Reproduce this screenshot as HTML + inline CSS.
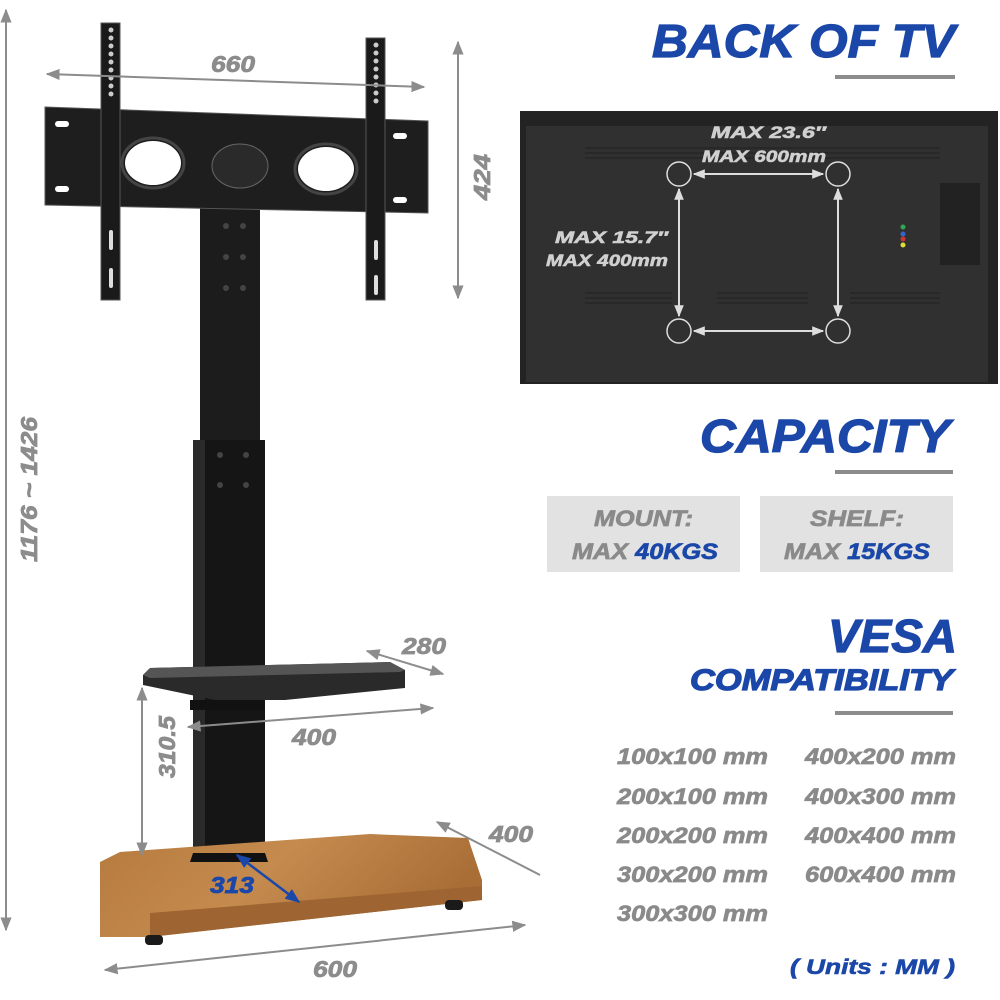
<!DOCTYPE html>
<html><head><meta charset="utf-8"><style>
html,body{margin:0;padding:0;background:#fff}
svg{display:block}
text{font-family:"Liberation Sans",sans-serif;font-weight:bold;font-style:italic}
.h{stroke-width:0.8}
</style></head><body>
<svg width="1000" height="1000" viewBox="0 0 1000 1000" xmlns="http://www.w3.org/2000/svg">
<defs>
<marker id="ag" viewBox="0 0 10 10" refX="9" refY="5" markerWidth="7" markerHeight="7" orient="auto-start-reverse"><path d="M0,1 L10,5 L0,9 z" fill="#8c8c8c"/></marker>
<marker id="aw" viewBox="0 0 10 10" refX="9" refY="5" markerWidth="6" markerHeight="6" orient="auto-start-reverse"><path d="M0,1 L10,5 L0,9 z" fill="#ddd"/></marker>
<marker id="ab" viewBox="0 0 10 10" refX="9" refY="5" markerWidth="6" markerHeight="6" orient="auto-start-reverse"><path d="M0,1 L10,5 L0,9 z" fill="#1a47a8"/></marker>
<linearGradient id="wood" x1="0" y1="0" x2="1" y2="0.3"><stop offset="0" stop-color="#b67a3e"/><stop offset="0.5" stop-color="#c48a4e"/><stop offset="1" stop-color="#a86e36"/></linearGradient>
</defs>

<!-- column -->
<rect x="200" y="205" width="60" height="240" fill="#1c1c1c"/>
<rect x="193" y="440" width="72" height="418" fill="#151515"/>
<rect x="193" y="440" width="12" height="418" fill="#2a2a2a"/>
<g fill="#444"><circle cx="226" cy="226" r="3"/><circle cx="243" cy="226" r="3"/><circle cx="226" cy="257" r="3"/><circle cx="243" cy="257" r="3"/><circle cx="226" cy="288" r="3"/><circle cx="243" cy="288" r="3"/>
<circle cx="220" cy="455" r="3"/><circle cx="246" cy="455" r="3"/><circle cx="220" cy="485" r="3"/><circle cx="246" cy="485" r="3"/></g>

<!-- plate -->
<polygon points="45,107 428,121 428,213 45,205" fill="#1e1e1e" stroke="#555" stroke-width="1"/>
<g fill="#fff"><ellipse cx="153" cy="163" rx="28" ry="22"/><ellipse cx="240" cy="166" rx="28" ry="22" fill="#2a2a2a" stroke="#666"/><ellipse cx="326" cy="169" rx="28" ry="22"/></g>
<g fill="none" stroke="#444" stroke-width="3"><ellipse cx="153" cy="163" rx="31" ry="25"/><ellipse cx="326" cy="169" rx="31" ry="25"/></g>
<g fill="#fff"><rect x="55" y="121" width="14" height="6" rx="3"/><rect x="55" y="186" width="14" height="6" rx="3"/><rect x="393" y="133" width="14" height="6" rx="3"/><rect x="393" y="197" width="14" height="6" rx="3"/></g>
<!-- rails -->
<rect x="101" y="23" width="19" height="277" fill="#1a1a1a" stroke="#555"/>
<rect x="366" y="38" width="19" height="262" fill="#1a1a1a" stroke="#555"/>
<g fill="#ccc"><circle cx="111" cy="30" r="2.5"/><circle cx="111" cy="38" r="2.5"/><circle cx="111" cy="46" r="2.5"/><circle cx="111" cy="54" r="2.5"/><circle cx="111" cy="62" r="2.5"/><circle cx="111" cy="70" r="2.5"/><circle cx="111" cy="78" r="2.5"/><circle cx="111" cy="86" r="2.5"/><circle cx="111" cy="94" r="2.5"/>
<circle cx="376" cy="45" r="2.5"/><circle cx="376" cy="53" r="2.5"/><circle cx="376" cy="61" r="2.5"/><circle cx="376" cy="69" r="2.5"/><circle cx="376" cy="77" r="2.5"/><circle cx="376" cy="85" r="2.5"/><circle cx="376" cy="93" r="2.5"/><circle cx="376" cy="101" r="2.5"/></g>
<g fill="#ddd"><rect x="109" y="230" width="4" height="20" rx="2"/><rect x="109" y="268" width="4" height="20" rx="2"/><rect x="374" y="240" width="4" height="20" rx="2"/><rect x="374" y="275" width="4" height="20" rx="2"/></g>

<!-- shelf -->
<polygon points="143,675 150,668 390,662 405,670 405,688 285,700 215,700 143,685" fill="#2a2a2a"/>
<polygon points="143,675 150,668 390,662 405,670 400,672 150,678" fill="#555"/>
<rect x="190" y="700" width="75" height="10" fill="#111"/>

<!-- base -->
<polygon points="100,862 120,852 370,834 468,838 482,880 482,900 150,937 100,937" fill="url(#wood)"/>
<polygon points="150,913 482,886 482,900 150,937" fill="#9e6532"/>
<rect x="145" y="935" width="18" height="10" rx="4" fill="#1a1a1a"/>
<rect x="445" y="900" width="18" height="10" rx="4" fill="#1a1a1a"/>
<polygon points="193,853 265,853 268,862 190,862" fill="#111"/>

<!-- dimension lines -->
<g stroke="#8c8c8c" stroke-width="2" fill="none">
<line x1="47" y1="74" x2="424" y2="87" marker-start="url(#ag)" marker-end="url(#ag)"/>
<line x1="458" y1="42" x2="458" y2="298" marker-start="url(#ag)" marker-end="url(#ag)"/>
<line x1="6" y1="10" x2="6" y2="930" marker-start="url(#ag)" marker-end="url(#ag)"/>
<line x1="367" y1="651" x2="443" y2="674" marker-start="url(#ag)" marker-end="url(#ag)"/>
<line x1="188" y1="727" x2="433" y2="708" marker-start="url(#ag)" marker-end="url(#ag)"/>
<line x1="142" y1="688" x2="142" y2="855" marker-start="url(#ag)" marker-end="url(#ag)"/>
<line x1="437" y1="822" x2="540" y2="875" marker-start="url(#ag)"/>
<line x1="105" y1="970" x2="525" y2="925" marker-start="url(#ag)" marker-end="url(#ag)"/>
</g>
<line x1="237" y1="855" x2="299" y2="902" stroke="#1a47a8" stroke-width="2.5" marker-start="url(#ab)" marker-end="url(#ab)"/>

<g fill="#8c8c8c" stroke="#8c8c8c" class="h" font-size="23">
<text x="211" y="72" textLength="44" lengthAdjust="spacingAndGlyphs">660</text>
<text transform="translate(490,200) rotate(-90)" textLength="46" lengthAdjust="spacingAndGlyphs">424</text>
<text transform="translate(37,562) rotate(-90)" textLength="145" lengthAdjust="spacingAndGlyphs">1176 ~ 1426</text>
<text x="402" y="654" textLength="44" lengthAdjust="spacingAndGlyphs">280</text>
<text x="292" y="745" textLength="44" lengthAdjust="spacingAndGlyphs">400</text>
<text transform="translate(175,778) rotate(-90)" textLength="62" lengthAdjust="spacingAndGlyphs">310.5</text>
<text x="489" y="842" textLength="44" lengthAdjust="spacingAndGlyphs">400</text>
<text x="313" y="977" textLength="44" lengthAdjust="spacingAndGlyphs">600</text>
</g>
<text x="210" y="893" font-size="23" fill="#1a47a8" stroke="#1a47a8" class="h" textLength="44" lengthAdjust="spacingAndGlyphs">313</text>

<!-- right side -->
<g fill="#1a47a8" stroke="#1a47a8" stroke-width="1.2">
<text x="652" y="57" font-size="46" textLength="303" lengthAdjust="spacingAndGlyphs">BACK OF TV</text>
<text x="700" y="452" font-size="46" textLength="250" lengthAdjust="spacingAndGlyphs">CAPACITY</text>
<text x="828" y="652" font-size="46" textLength="129" lengthAdjust="spacingAndGlyphs">VESA</text>
<text x="690" y="690" font-size="30" textLength="263" lengthAdjust="spacingAndGlyphs">COMPATIBILITY</text>
</g>
<g fill="#8c8c8c"><rect x="835" y="75" width="120" height="4"/><rect x="835" y="470" width="118" height="4"/><rect x="835" y="711" width="118" height="4"/></g>

<!-- TV -->
<rect x="520" y="111" width="478" height="273" fill="#232323"/>
<rect x="526" y="126" width="462" height="256" fill="#303030"/>
<rect x="940" y="183" width="40" height="82" fill="#222"/>
<g stroke="#262626" stroke-width="1.5">
<line x1="585" y1="148" x2="940" y2="148"/><line x1="585" y1="153" x2="940" y2="153"/><line x1="585" y1="158" x2="940" y2="158"/>
<line x1="585" y1="293" x2="672" y2="293"/><line x1="585" y1="298" x2="672" y2="298"/><line x1="585" y1="303" x2="672" y2="303"/>
<line x1="717" y1="293" x2="808" y2="293"/><line x1="717" y1="298" x2="808" y2="298"/><line x1="717" y1="303" x2="808" y2="303"/>
<line x1="850" y1="293" x2="940" y2="293"/><line x1="850" y1="298" x2="940" y2="298"/><line x1="850" y1="303" x2="940" y2="303"/>
</g>
<g fill="none" stroke="#ddd" stroke-width="1.5">
<circle cx="679" cy="174" r="12"/><circle cx="838" cy="174" r="12"/><circle cx="679" cy="331" r="12"/><circle cx="838" cy="331" r="12"/>
</g>
<g stroke="#ddd" stroke-width="2">
<line x1="694" y1="174" x2="823" y2="174" marker-start="url(#aw)" marker-end="url(#aw)"/>
<line x1="694" y1="331" x2="823" y2="331" marker-start="url(#aw)" marker-end="url(#aw)"/>
<line x1="679" y1="189" x2="679" y2="316" marker-start="url(#aw)" marker-end="url(#aw)"/>
<line x1="838" y1="189" x2="838" y2="316" marker-start="url(#aw)" marker-end="url(#aw)"/>
</g>
<circle cx="903" cy="227" r="2.5" fill="#32a852"/><circle cx="903" cy="234" r="2.5" fill="#3366cc"/><circle cx="903" cy="239" r="2.5" fill="#cc3333"/><circle cx="903" cy="245" r="2.5" fill="#dddd33"/>
<g fill="#d0d0d0" stroke="#d0d0d0" stroke-width="0.6" font-size="17">
<text x="711" y="138" textLength="115" lengthAdjust="spacingAndGlyphs">MAX 23.6″</text>
<text x="702" y="162" textLength="124" lengthAdjust="spacingAndGlyphs">MAX 600mm</text>
<text x="555" y="243" textLength="113" lengthAdjust="spacingAndGlyphs">MAX 15.7″</text>
<text x="546" y="266" textLength="122" lengthAdjust="spacingAndGlyphs">MAX 400mm</text>
</g>

<!-- capacity boxes -->
<rect x="547" y="496" width="193" height="76" fill="#e2e2e2"/>
<rect x="760" y="496" width="193" height="76" fill="#e2e2e2"/>
<g font-size="22" fill="#8a8a8a" stroke-width="0.7">
<text x="594" y="526" stroke="#8a8a8a" textLength="99" lengthAdjust="spacingAndGlyphs">MOUNT:</text>
<text x="572" y="559" stroke="#8a8a8a" textLength="146" lengthAdjust="spacingAndGlyphs">MAX <tspan fill="#1a47a8" stroke="#1a47a8">40KGS</tspan></text>
<text x="810" y="526" stroke="#8a8a8a" textLength="94" lengthAdjust="spacingAndGlyphs">SHELF:</text>
<text x="784" y="559" stroke="#8a8a8a" textLength="146" lengthAdjust="spacingAndGlyphs">MAX <tspan fill="#1a47a8" stroke="#1a47a8">15KGS</tspan></text>
</g>

<!-- VESA list -->
<g font-size="22" fill="#8a8a8a" stroke="#8a8a8a" stroke-width="0.7">
<text x="617" y="764" textLength="151" lengthAdjust="spacingAndGlyphs">100x100 mm</text><text x="617" y="804" textLength="151" lengthAdjust="spacingAndGlyphs">200x100 mm</text><text x="617" y="843" textLength="151" lengthAdjust="spacingAndGlyphs">200x200 mm</text><text x="617" y="882" textLength="151" lengthAdjust="spacingAndGlyphs">300x200 mm</text><text x="617" y="921" textLength="151" lengthAdjust="spacingAndGlyphs">300x300 mm</text>
<text x="805" y="764" textLength="151" lengthAdjust="spacingAndGlyphs">400x200 mm</text><text x="805" y="804" textLength="151" lengthAdjust="spacingAndGlyphs">400x300 mm</text><text x="805" y="843" textLength="151" lengthAdjust="spacingAndGlyphs">400x400 mm</text><text x="805" y="882" textLength="151" lengthAdjust="spacingAndGlyphs">600x400 mm</text>
</g>
<text x="790" y="974" font-size="21" fill="#1a47a8" stroke="#1a47a8" stroke-width="0.6" textLength="165" lengthAdjust="spacingAndGlyphs">( Units : MM )</text>
</svg>
</body></html>
